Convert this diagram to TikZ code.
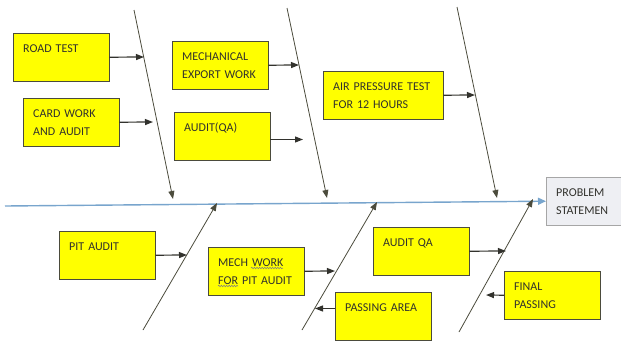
\documentclass[tikz,border=0pt]{standalone}
\usepackage{fontspec}
\setmainfont{Carlito}
\usetikzlibrary{arrows.meta,decorations.pathmorphing}
\definecolor{CauseYellow}{RGB}{255,255,0}
\definecolor{CauseEdge}{RGB}{75,75,60}
\definecolor{InkGrey}{RGB}{50,50,45}
\definecolor{SpineBlue}{RGB}{120,165,205}
\definecolor{ProblemGrey}{RGB}{238,239,243}

\begin{document}
\begin{tikzpicture}[x=1pt,y=-1pt,
  cause/.style={draw=CauseEdge,fill=CauseYellow,anchor=north west,text width=76pt,
    inner xsep=10pt,minimum height=48pt,align=left,text=InkGrey,
    font=\fontsize{12}{18}\selectfont},
  problem/.style={cause,fill=ProblemGrey,draw=gray!70},
  bone/.style={draw=CauseEdge,line width=0.8pt,-{Triangle[length=8pt,width=6pt]}},
  feed/.style={draw=InkGrey,line width=1.2pt,-{Triangle[length=8pt,width=6pt]}},
  spine/.style={draw=SpineBlue,line width=1.4pt,-{Triangle[length=8pt,width=7pt]}},
  squig/.style={draw=black!50,line width=0.5pt,decorate,
    decoration={snake,amplitude=0.8pt,segment length=2.6pt}}]
\useasboundingbox (0,0) rectangle (621,343);

% effect
\node[problem] (prob) at (546,177) {PROBLEM\\STATEMEN};
\coordinate (tail) at (5,206);
\draw[spine] (tail) -- (prob.west);

% bones, upper side
\coordinate (b1s) at (134,10);  \coordinate (b1e) at (173,199);
\coordinate (b2s) at (287,8);   \coordinate (b2e) at (327,198);
\coordinate (b3s) at (457,7);   \coordinate (b3e) at (497,198);
\draw[bone] (b1s) -- (b1e);
\draw[bone] (b2s) -- (b2e);
\draw[bone] (b3s) -- (b3e);

% bones, lower side
\coordinate (b4s) at (143,330); \coordinate (b4e) at (217,203);
\coordinate (b5s) at (302,330); \coordinate (b5e) at (377,202);
\coordinate (b6s) at (459,332); \coordinate (b6e) at (533,199);
\draw[bone] (b4s) -- (b4e);
\draw[bone] (b5s) -- (b5e);
\draw[bone] (b6s) -- (b6e);

% causes
\node[cause] (road) at (13,33) {ROAD TEST\\\mbox{}};
\node[cause] (card) at (23,98) {CARD WORK\\AND AUDIT};
\node[cause] (mech) at (172,41) {MECHANICAL\\EXPORT WORK};
\node[cause] (qa) at (174,112) {AUDIT(QA)\\\mbox{}};
\node[cause,text width=100pt] (air) at (323,71) {AIR PRESSURE TEST\\FOR 12 HOURS};
\node[cause] (pit) at (59,231) {PIT AUDIT\\\mbox{}};
\node[cause] (mechpit) at (208,247) {MECH WORK\\FOR PIT AUDIT};
\node[cause] (pass) at (335,292) {PASSING AREA\\\mbox{}};
\node[cause] (auditqa) at (373,227) {AUDIT QA\\\mbox{}};
\node[cause] (final) at (504,271) {FINAL\\PASSING};

% spell-check marks
\draw[squig] (251,268) -- (283,268);
\draw[squig] (218,286) -- (238,286);

% arrow tips on the bones
\coordinate (roadtip) at (144,57);
\coordinate (cardtip) at (153,122);
\coordinate (mechtip) at (299,65);
\coordinate (qatip) at (303,139.5);
\coordinate (airtip) at (475,95);
\coordinate (pittip) at (187,255);
\coordinate (mechpittip) at (335,271);
\coordinate (passtip) at (315,308.5);
\coordinate (auditqatip) at (506,251);
\coordinate (finaltip) at (486,295);

\draw[feed] (road.east) -- (roadtip);
\draw[feed] (card.east) -- (cardtip);
\draw[feed] (mech.east) -- (mechtip);
\draw[feed] (qa.east |- qatip) -- (qatip);
\draw[feed] (air.east) -- (airtip);
\draw[feed] (pit.east) -- (pittip);
\draw[feed] (mechpit.east) -- (mechpittip);
\draw[feed] (pass.west |- passtip) -- (passtip);
\draw[feed] (auditqa.east) -- (auditqatip);
\draw[feed] (final.west) -- (finaltip);
\end{tikzpicture}
\end{document}
